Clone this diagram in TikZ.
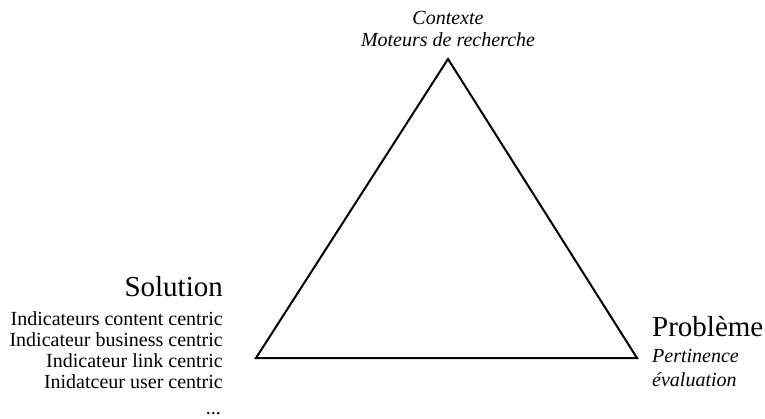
\documentclass[tikz,border=0pt]{standalone}
\usepackage{fontspec}
\setmainfont{Liberation Serif}
\begin{document}
\begin{tikzpicture}[x=1pt,y=-1pt,
  body/.style={inner sep=0pt,font=\fontsize{20}{21}\selectfont},
  bodyit/.style={body,font=\fontsize{20}{21}\selectfont\itshape},
  big/.style={inner sep=0pt,font=\fontsize{29}{30}\selectfont},
  edge/.style={line width=2pt,line join=miter}]
\useasboundingbox (0,0) rectangle (765,419);
\coordinate (A) at (448,59);
\coordinate (L) at (256,358);
\coordinate (R) at (637,358);
\draw[edge] (A) -- (L) -- (R) -- cycle;
% top
\node[bodyit,anchor=base] (ctx) at (448,25) {Contexte};
\node[bodyit,anchor=base] (mot) at (448,47) {Moteurs de recherche};
% left
\node[big,anchor=base east] (sol) at (223,297) {Solution};
\node[body,anchor=base east] (i1) at (223,326) {Indicateurs content centric};
\node[body,anchor=base east] (i2) at (223,346.5) {Indicateur business centric};
\node[body,anchor=base east] (i3) at (223,367) {Indicateur link centric};
\node[body,anchor=base east] (i4) at (223,388) {Inidatceur user centric};
\node[body,anchor=base east] (dots) at (221,414) {...};
% right
\node[big,anchor=base west] (pb) at (652,337) {Problème};
\node[bodyit,anchor=base west] (p1) at (652,362) {Pertinence};
\node[bodyit,anchor=base west] (p2) at (652,386) {évaluation};
\end{tikzpicture}
\end{document}
